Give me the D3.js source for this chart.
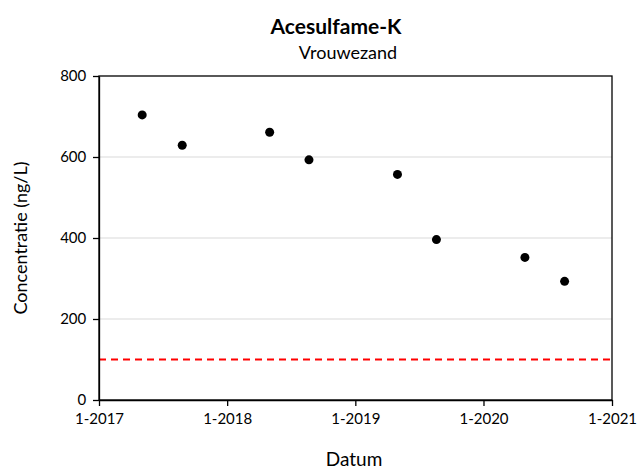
<!DOCTYPE html>
<html><head><meta charset="utf-8">
<script src="https://cdn.jsdelivr.net/npm/d3@7"></script>
<style>body{margin:0;background:#fff}svg{display:block}text{font-family:Lato,"Open Sans",sans-serif}</style>
</head><body>
<script>
const dates = ["2017-05-04","2017-08-26","2018-05-02","2018-08-22","2019-05-01","2019-08-20","2020-04-28","2020-08-19"];
const values = [704, 629, 661, 593, 557, 396, 352, 293];
const threshold = 100;
const xTicks = ["2017-01-01","2018-01-01","2019-01-01","2020-01-01","2021-01-01"];
const yTicks = [0, 200, 400, 600, 800];

const W = 638, H = 475;
const m = {l: 99, r: 26, t: 76, b: 75};
const parse = d3.timeParse("%Y-%m-%d");
const svg = d3.select("body").append("svg").attr("width", W).attr("height", H);
const x = d3.scaleTime().domain([parse(xTicks[0]), parse(xTicks[xTicks.length-1])]).range([m.l, W - m.r]);
const y = d3.scaleLinear().domain([0, 800]).range([H - m.b, m.t]);

// gridlines
svg.append("g").selectAll("line").data(yTicks.filter(v => v > 0 && v < 800)).join("line")
  .attr("x1", m.l).attr("x2", W - m.r).attr("y1", d => y(d)).attr("y2", d => y(d))
  .attr("stroke", "#d9d9d9").attr("stroke-width", 1);

// threshold
svg.append("line").attr("x1", m.l).attr("x2", W - m.r).attr("y1", y(threshold)).attr("y2", y(threshold))
  .attr("stroke", "#ff0000").attr("stroke-width", 2).attr("stroke-dasharray", "7,5");

// frame
svg.append("rect").attr("x", m.l).attr("y", m.t).attr("width", W - m.r - m.l).attr("height", H - m.b - m.t)
  .attr("fill", "none").attr("stroke", "#000").attr("stroke-width", 1.3);

const xAxis = svg.append("g").attr("transform", `translate(0,${H - m.b})`)
  .call(d3.axisBottom(x).tickValues(xTicks.map(parse)).tickFormat(d3.timeFormat("1-%Y")).tickSize(6).tickSizeOuter(0));
const yAxis = svg.append("g").attr("transform", `translate(${m.l},0)`)
  .call(d3.axisLeft(y).tickValues(yTicks).tickSize(6).tickSizeOuter(0));
[xAxis, yAxis].forEach(a => {
  a.select(".domain").attr("stroke", "#000").attr("stroke-width", 1.3);
  a.selectAll(".tick line").attr("stroke", "#000").attr("stroke-width", 1.3);
  a.selectAll("text").attr("font-size", 15).attr("fill", "#000").style("font-family", "Lato, 'Open Sans', sans-serif");
});
xAxis.selectAll("text").attr("dy", "1.0em");
yAxis.selectAll("text").attr("dx", "-0.25em");

// points
svg.append("g").selectAll("circle").data(dates.map((d, i) => ({d: parse(d), v: values[i]}))).join("circle")
  .attr("cx", d => x(d.d)).attr("cy", d => y(d.v)).attr("r", 4.5).attr("fill", "#000");

svg.append("text").attr("x", 336).attr("y", 34).attr("text-anchor", "middle")
  .attr("font-size", 21).attr("font-weight", "bold").text("Acesulfame-K");
svg.append("text").attr("x", 348).attr("y", 59).attr("text-anchor", "middle")
  .attr("font-size", 18).text("Vrouwezand");
svg.append("text").attr("x", 354).attr("y", 466).attr("text-anchor", "middle")
  .attr("font-size", 19).text("Datum");
svg.append("text").attr("transform", "translate(27,238) rotate(-90)").attr("text-anchor", "middle")
  .attr("font-size", 18).text("Concentratie (ng/L)");
</script>
</body></html>
